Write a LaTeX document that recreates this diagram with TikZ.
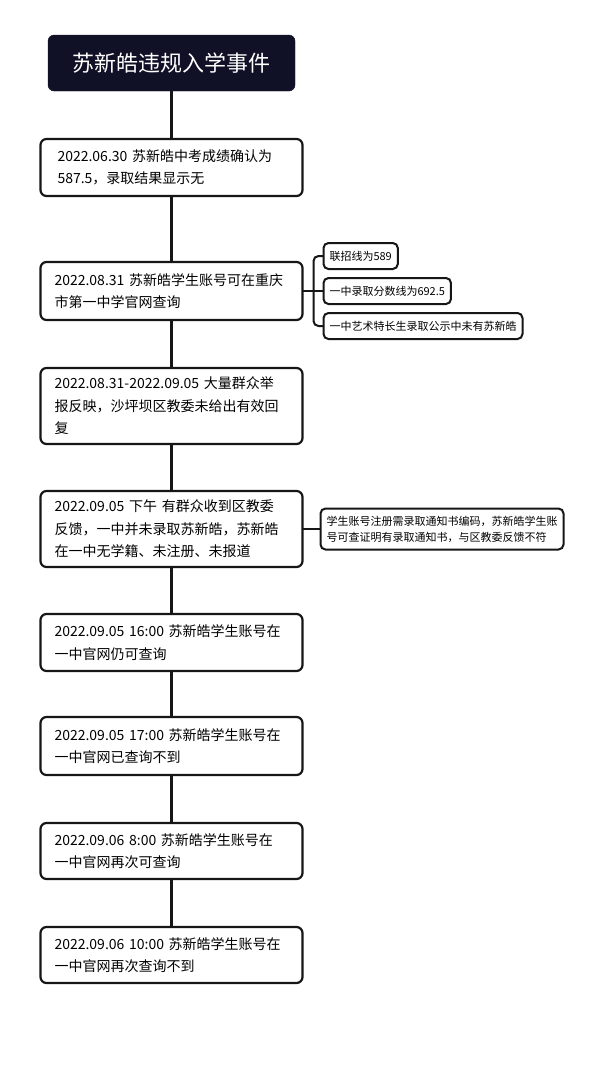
\documentclass[tikz,border=0pt]{standalone}
\usepackage{fontspec}
\setmainfont{Noto Sans CJK SC}
\usetikzlibrary{positioning, calc}
\definecolor{titlenavy}{RGB}{16,16,38}
\definecolor{inkblack}{RGB}{22,22,22}

\begin{document}
\begin{tikzpicture}[x=1pt, y=1pt,
            node distance=47pt and 21pt,
            event/.style={rectangle, draw=inkblack, fill=white, rounded corners=6pt, line width=2.2pt, outer sep=0pt, text width=234pt, inner xsep=14pt, minimum height=57pt, align=left, font=\fontsize{14}{22.5}\selectfont},
            headline/.style={rectangle, draw=titlenavy, fill=titlenavy, rounded corners=6pt, outer sep=0pt, minimum width=247pt, minimum height=56pt, text=white, font=\fontsize{22}{26}\selectfont},
            note/.style={rectangle, draw=inkblack, fill=white, rounded corners=5pt, line width=2pt, outer sep=0pt, minimum height=26pt, inner xsep=6pt, align=left, font=\fontsize{11}{16}\selectfont},
            spine/.style={draw=inkblack, line width=2.2pt},
            branch/.style={draw=inkblack, line width=2pt, rounded corners=5pt}
        ]
            \useasboundingbox[fill=white] (0,0) rectangle (600,-1071);

            % --- Timeline ---
            \node[headline] (title) at (171.5,-63) {苏新皓违规入学事件};
            \node[event, below=48pt of title] (b1) {\hspace*{3pt}2022.06.30 苏新皓中考成绩确认为\\\hspace*{3pt}587.5，录取结果显示无};
            \node[event, below=66pt of b1, minimum height=58pt] (b2) {2022.08.31 苏新皓学生账号可在重庆\\市第一中学官网查询};
            \node[event, below=48pt of b2, minimum height=76pt] (b3) {2022.08.31-2022.09.05 大量群众举\\报反映，沙坪坝区教委未给出有效回\\复};
            \node[event, below=of b3, minimum height=76pt] (b4) {2022.09.05 下午 有群众收到区教委\\反馈，一中并未录取苏新皓，苏新皓\\在一中无学籍、未注册、未报道};
            \node[event, below=of b4] (b5) {2022.09.05 16:00 苏新皓学生账号在\\一中官网仍可查询};
            \node[event, below=46pt of b5, minimum height=58pt] (b6) {2022.09.05 17:00 苏新皓学生账号在\\一中官网已查询不到};
            \node[event, below=48pt of b6, minimum height=56pt] (b7) {2022.09.06 8:00 苏新皓学生账号在\\一中官网再次可查询};
            \node[event, below=48pt of b7, minimum height=56pt] (b8) {2022.09.06 10:00 苏新皓学生账号在\\一中官网再次查询不到};

            % --- Side notes ---
            \node[note, right=of b2] (s2) {一中录取分数线为692.5};
            \node[note, above=9pt of s2.north west, anchor=south west] (s1) {联招线为589};
            \node[note, below=9pt of s2.south west, anchor=north west] (s3) {一中艺术特长生录取公示中未有苏新皓};
            \node[note, right=18pt of b4, minimum height=41pt] (n4) {学生账号注册需录取通知书编码，苏新皓学生账\\号可查证明有录取通知书，与区教委反馈不符};

            % --- Links ---
            \draw[spine] (title.south) -- (title.south |- b1.north);
            \draw[spine] (b1.south) -- (b1.south |- b2.north);
            \draw[spine] (b2.south) -- (b2.south |- b3.north);
            \draw[spine] (b3.south) -- (b3.south |- b4.north);
            \draw[spine] (b4.south) -- (b4.south |- b5.north);
            \draw[spine] (b5.south) -- (b5.south |- b6.north);
            \draw[spine] (b6.south) -- (b6.south |- b7.north);
            \draw[spine] (b7.south) -- (b7.south |- b8.north);

            \coordinate (fork) at ($(b2.east)+(11,0)$);
            \draw[branch] (b2.east) -- (fork);
            \draw[branch] (s1.west) -| (fork) |- (s3.west);
            \draw[branch] (fork) -- (s2.west);
            \draw[branch] (b4.east) -- (n4.west);

        \end{tikzpicture}
\end{document}
